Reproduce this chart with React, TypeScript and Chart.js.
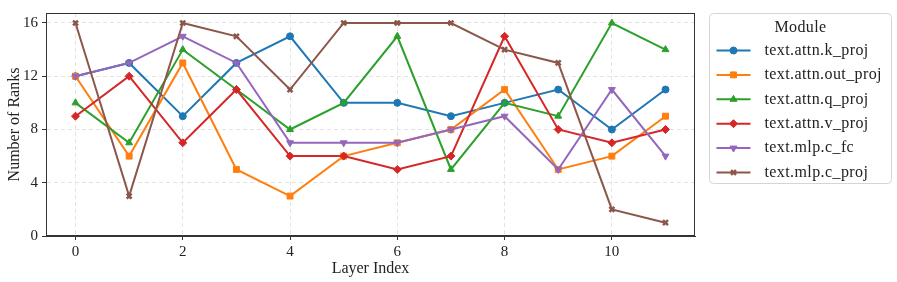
import React, { useEffect, useRef } from "react";
import { Chart, registerables } from "chart.js";
import { drawPoint } from "chart.js/helpers";

Chart.register(...registerables);

const layers = [0, 1, 2, 3, 4, 5, 6, 7, 8, 9, 10, 11];
const kProj = [12, 13, 9, 13, 15, 10, 10, 9, 10, 11, 8, 11];
const outProj = [12, 6, 13, 5, 3, 6, 7, 8, 11, 5, 6, 9];
const qProj = [10, 7, 14, 11, 8, 10, 15, 5, 10, 9, 16, 14];
const vProj = [9, 12, 7, 11, 6, 6, 5, 6, 15, 8, 7, 8];
const cFc = [12, 13, 15, 13, 7, 7, 7, 8, 9, 5, 11, 6];
const cProj = [16, 3, 16, 15, 11, 16, 16, 16, 14, 13, 2, 1];
const seriesNames = [
  "text.attn.k_proj",
  "text.attn.out_proj",
  "text.attn.q_proj",
  "text.attn.v_proj",
  "text.mlp.c_fc",
  "text.mlp.c_proj",
];
const xTicks = [0, 2, 4, 6, 8, 10];
const yTicks = [0, 4, 8, 12, 16];
const legendTitle = "Module";
const xTitle = "Layer Index";
const yTitle = "Number of Ranks";

const FONT = "'Liberation Serif', 'DejaVu Serif', serif";

const styles = [
  { color: "#1f77b4", pointStyle: "circle", rotation: 0, radius: 3.5, bw: 1 },
  { color: "#ff7f0e", pointStyle: "rect", rotation: 0, radius: 4.2, bw: 1 },
  { color: "#2ca02c", pointStyle: "triangle", rotation: 0, radius: 4, bw: 1 },
  { color: "#d62728", pointStyle: "rectRot", rotation: 0, radius: 4, bw: 1 },
  { color: "#9467bd", pointStyle: "triangle", rotation: 180, radius: 4, bw: 1 },
  { color: "#8c564b", pointStyle: "crossRot", rotation: 0, radius: 3.5, bw: 2.5 },
];

const allSeries = [kProj, outProj, qProj, vProj, cFc, cProj];

const frameAndLegend = {
  id: "frameAndLegend",
  afterDatasetsDraw(chart: any) {
    const ctx = chart.ctx;
    const { left, right, top, bottom } = chart.chartArea;
    ctx.save();
    ctx.strokeStyle = "#333333";
    ctx.lineWidth = 1;
    ctx.strokeRect(left + 0.5, top + 0.5, right - left - 1, bottom - top - 1);
    ctx.restore();
  },
  afterDraw(chart: any) {
    const ctx = chart.ctx;
    const { right, top } = chart.chartArea;
    const x0 = right + 14.5;
    const y0 = top + 0.5;
    const w = 182;
    const h = 170;
    ctx.save();
    ctx.beginPath();
    ctx.roundRect(x0, y0, w, h, 4);
    ctx.fillStyle = "rgba(255,255,255,0.9)";
    ctx.fill();
    ctx.strokeStyle = "#d5d5d5";
    ctx.lineWidth = 1;
    ctx.stroke();

    ctx.fillStyle = "#222";
    ctx.font = `16px ${FONT}`;
    ctx.textAlign = "center";
    ctx.textBaseline = "middle";
    (ctx as any).letterSpacing = "0.4px";
    ctx.fillText(legendTitle, x0 + w / 2, y0 + 14);

    chart.data.datasets.forEach((ds: any, i: number) => {
      const y = y0 + 37 + i * 24.4;
      ctx.strokeStyle = ds.borderColor;
      ctx.lineWidth = 2;
      ctx.beginPath();
      ctx.moveTo(x0 + 7, y);
      ctx.lineTo(x0 + 41, y);
      ctx.stroke();
      ctx.fillStyle = ds.pointBackgroundColor;
      ctx.strokeStyle = ds.pointBorderColor;
      ctx.lineWidth = ds.pointBorderWidth;
      drawPoint(
        ctx,
        {
          pointStyle: ds.pointStyle,
          rotation: ds.pointRotation,
          radius: ds.pointRadius,
          borderWidth: ds.pointBorderWidth,
        } as any,
        x0 + 24,
        y
      );
      ctx.fillStyle = "#222";
      ctx.font = `16px ${FONT}`;
      ctx.textAlign = "left";
      ctx.textBaseline = "middle";
      ctx.fillText(ds.label, x0 + 55, y);
    });
    (ctx as any).letterSpacing = "0px";
    ctx.restore();
  },
};

export default function App() {
  const ref = useRef<HTMLCanvasElement | null>(null);

  useEffect(() => {
    document.body.style.margin = "0";
    if (!ref.current) return;
    Chart.defaults.font.family = FONT;
    Chart.defaults.color = "#222";

    const datasets = allSeries.map((vals, i) => ({
      label: seriesNames[i],
      data: layers.map((l, j) => ({ x: l, y: vals[j] })),
      order: allSeries.length - i,
      borderColor: styles[i].color,
      backgroundColor: styles[i].color,
      pointBackgroundColor: styles[i].color,
      pointBorderColor: styles[i].color,
      pointStyle: styles[i].pointStyle,
      pointRotation: styles[i].rotation,
      pointRadius: styles[i].radius,
      pointBorderWidth: styles[i].bw,
      borderWidth: 2,
      tension: 0,
      fill: false,
    }));

    const chart = new Chart(ref.current, {
      type: "line",
      data: { datasets },
      options: {
        animation: false,
        responsive: false,
        layout: { padding: { top: 6, right: 202, left: 0, bottom: 0 } },
        plugins: { legend: { display: false }, tooltip: { enabled: false } },
        scales: {
          x: {
            type: "linear",
            min: -0.55,
            max: 11.55,
            afterBuildTicks: (s: any) => {
              s.ticks = xTicks.map((v) => ({ value: v }));
            },
            afterFit: (s: any) => {
              s.height = 46;
            },
            ticks: { font: { size: 15 }, padding: 3, color: "#222", maxRotation: 0 },
            grid: {
              color: "#e3e3e3",
              tickColor: "#333",
              tickLength: 4,
              tickBorderDash: [],
            },
            border: { display: true, color: "#333", dash: [4, 3] },
            title: {
              display: true,
              text: xTitle,
              font: { size: 16 },
              color: "#222",
              padding: { top: 0, bottom: 4 },
            },
          },
          y: {
            type: "linear",
            min: 0,
            max: 16.75,
            afterBuildTicks: (s: any) => {
              s.ticks = yTicks.map((v) => ({ value: v }));
            },
            afterFit: (s: any) => {
              s.width = 46;
            },
            ticks: { font: { size: 15 }, padding: 4, color: "#222" },
            grid: {
              color: "#e3e3e3",
              tickColor: "#333",
              tickLength: 4,
              tickBorderDash: [],
            },
            border: { display: true, color: "#333", dash: [4, 3] },
            title: {
              display: true,
              text: yTitle,
              font: { size: 16 },
              color: "#222",
              padding: { top: 5, bottom: 0 },
            },
          },
        },
      },
      plugins: [frameAndLegend],
    } as any);

    return () => chart.destroy();
  }, []);

  return (
    <div style={{ width: 897, height: 282 }}>
      <canvas ref={ref} width={897} height={282} />
    </div>
  );
}
